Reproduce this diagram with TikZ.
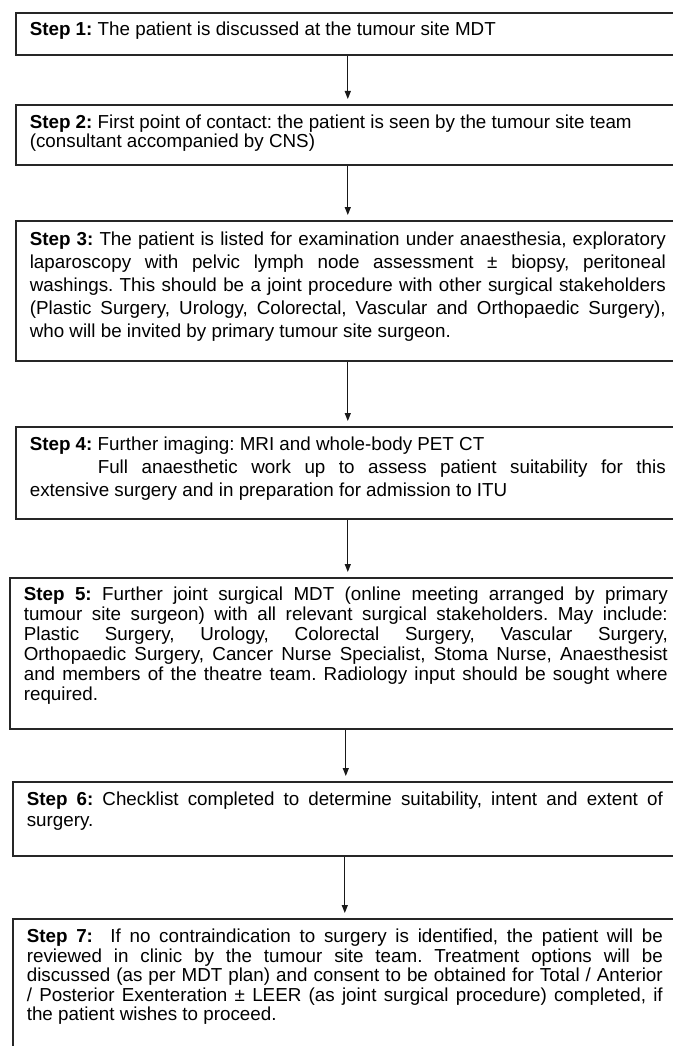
\documentclass[tikz,border=0pt]{standalone}
\usepackage{fontspec}
\setmainfont{Liberation Sans}
\usepackage{tikz}
\usetikzlibrary{arrows.meta}
\frenchspacing

\begin{document}
\begin{tikzpicture}[
  x=1pt, y=-1pt,
  line join=miter,
  stepbox/.style={draw=black!85,line width=1.6pt,anchor=north west,
    inner xsep=14pt,inner ysep=0pt,text width=636pt,align=justify,
    text=black,font=\fontsize{18.8}{#1}\selectfont},
  stepbox/.default=19.5,
  flow/.style={draw=black!90,line width=1.2pt,
    -{Triangle[length=8pt,width=6pt]},shorten >=5pt}
]
\useasboundingbox (0,0) rectangle (672,1046);

% Steps
\node[stepbox, text height=23pt, text depth=19pt] (s1) at (15,12)
  {\textbf{Step 1:} The patient is discussed at the tumour site MDT};
\node[stepbox=19, text height=24pt, text depth=36pt] (s2) at (15,104)
  {\textbf{Step 2:} First point of contact: the patient is seen by the tumour site team\newline
   (consultant accompanied by CNS)};
\node[stepbox=23, text height=25pt, text depth=115pt] (s3) at (15,220)
  {\textbf{Step 3:} The patient is listed for examination under anaesthesia, exploratory\linebreak
   laparoscopy with pelvic lymph node assessment ± biopsy, peritoneal\linebreak
   washings. This should be a joint procedure with other surgical stakeholders\linebreak
   (Plastic Surgery, Urology, Colorectal, Vascular and Orthopaedic Surgery),\linebreak
   who will be invited by primary tumour site surgeon.};
\node[stepbox=23, text height=24pt, text depth=68pt] (s4) at (15,426)
  {\textbf{Step 4:} Further imaging: MRI and whole-body PET CT\par
   \hspace*{68pt}Full anaesthetic work up to assess patient suitability for this\linebreak
   extensive surgery and in preparation for admission to ITU};
\node[stepbox=20, text width=644pt, text height=23pt, text depth=128pt] (s5) at (9,577)
  {\textbf{Step 5:} Further joint surgical MDT (online meeting arranged by primary\linebreak
   tumour site surgeon) with all relevant surgical stakeholders. May include:\linebreak
   Plastic Surgery, Urology, Colorectal Surgery, Vascular Surgery,\linebreak
   Orthopaedic Surgery, Cancer Nurse Specialist, Stoma Nurse, Anaesthesist\linebreak
   and members of the theatre team. Radiology input should be sought where\linebreak
   required.};
\node[stepbox=21, text height=24pt, text depth=50pt] (s6) at (12,781)
  {\textbf{Step 6:} Checklist completed to determine suitability, intent and extent of\linebreak
   surgery.};
\node[stepbox, text height=24pt, text depth=118pt] (s7) at (12,918)
  {\textbf{Step 7:}\ \ If no contraindication to surgery is identified, the patient will be\linebreak
   reviewed in clinic by the tumour site team. Treatment options will be\linebreak
   discussed (as per MDT plan) and consent to be obtained for Total / Anterior\linebreak
   / Posterior Exenteration ± LEER (as joint surgical procedure) completed, if\linebreak
   the patient wishes to proceed.};

% Arrows between steps
\foreach \a/\b in {s1/s2,s2/s3,s3/s4,s4/s5,s5/s6,s6/s7}
  \draw[flow] (\a.south) -- (\a.south |- \b.north);

\end{tikzpicture}
\end{document}
